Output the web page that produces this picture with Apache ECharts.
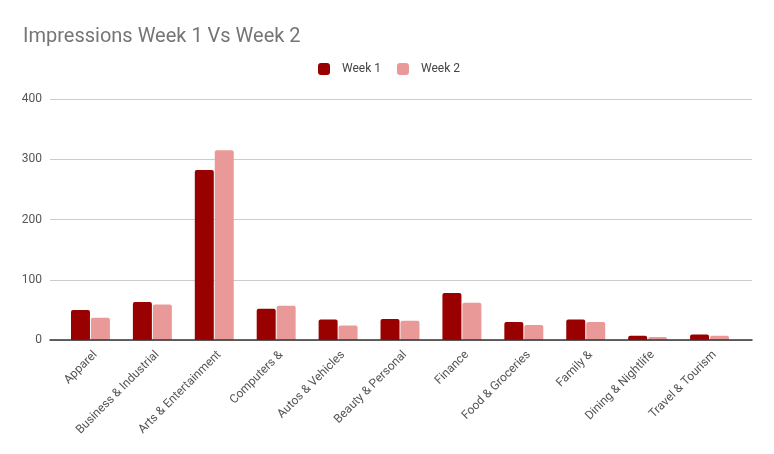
<!DOCTYPE html>
<html>
<head>
<meta charset="UTF-8">
<title>Impressions Week 1 Vs Week 2</title>
<script src="https://cdn.jsdelivr.net/npm/echarts@6/dist/echarts.min.js"></script>
<style>
  html, body { margin: 0; padding: 0; background: #fff; }
  #chart { width: 774px; height: 454px; }
</style>
</head>
<body>
<div id="chart"></div>
<script type="text/javascript">
// categories and values
var categories = ['Apparel', 'Business & Industrial', 'Arts & Entertainment', 'Computers &',
  'Autos & Vehicles', 'Beauty & Personal', 'Finance', 'Food & Groceries', 'Family &',
  'Dining & Nightlife', 'Travel & Tourism'];
var week1 = [50, 63, 282, 52, 34, 35, 78, 30, 34, 7, 9];
var week2 = [37, 59, 315, 57, 24, 32, 62, 25, 30, 5, 7];
var yTicks = [0, 100, 200, 300, 400];

var myChart = echarts.init(document.getElementById('chart'));

// grid 0: gridlines + baseline, grid 1: bars, grid 2: the slanted labels (nudged right a bit)
var option = {
  animation: false,
  textStyle: { fontFamily: 'Roboto' },
  title: {
    text: 'Impressions Week 1 Vs Week 2',
    left: 18,
    top: 22,
    textStyle: { fontFamily: 'Roboto', fontSize: 20, fontWeight: 'normal', color: '#757575' }
  },
  legend: {
    top: 58,
    left: 313,
    itemWidth: 12,
    itemHeight: 12,
    itemGap: 16,
    textStyle: { fontFamily: 'Roboto', fontSize: 12, color: '#444', padding: [0, 0, 0, 7] },
    data: ['Week 1', 'Week 2']
  },
  grid: [
    { left: 50, right: 22, top: 99, bottom: 114 },
    { left: 59.5, right: 33.5, top: 99, bottom: 114 },
    { left: 64.5, right: 28.5, top: 99, bottom: 114 }
  ],
  xAxis: [
    {
      type: 'category',
      gridIndex: 0,
      data: [''],
      axisTick: { show: false },
      axisLabel: { show: false },
      axisLine: { lineStyle: { color: '#333', width: 1.5 } },
      z: 5
    },
    {
      type: 'category',
      gridIndex: 1,
      data: categories,
      axisTick: { show: false },
      axisLine: { show: false },
      axisLabel: { show: false }
    },
    {
      type: 'category',
      gridIndex: 2,
      data: categories,
      axisTick: { show: false },
      axisLine: { show: false },
      axisLabel: { rotate: 45, fontSize: 12, color: '#555', margin: 13, interval: 0 }
    }
  ],
  yAxis: [
    {
      type: 'value',
      gridIndex: 0,
      min: yTicks[0],
      max: yTicks[yTicks.length - 1],
      interval: 100,
      axisLine: { show: false },
      axisTick: { show: false },
      axisLabel: { fontSize: 12, color: '#555', margin: 8 },
      splitLine: { lineStyle: { color: '#ccc' } }
    },
    {
      type: 'value',
      gridIndex: 1,
      min: yTicks[0],
      max: yTicks[yTicks.length - 1],
      interval: 100,
      show: false
    },
    {
      type: 'value',
      gridIndex: 2,
      min: yTicks[0],
      max: yTicks[yTicks.length - 1],
      interval: 100,
      show: false
    }
  ],
  series: [
    {
      name: 'Week 1',
      type: 'bar',
      xAxisIndex: 1,
      yAxisIndex: 1,
      data: week1,
      barWidth: 19,
      barGap: '5%',
      itemStyle: { color: '#990000', borderRadius: [2, 2, 0, 0] }
    },
    {
      name: 'Week 2',
      type: 'bar',
      xAxisIndex: 1,
      yAxisIndex: 1,
      data: week2,
      barWidth: 19,
      itemStyle: { color: '#ea9999', borderRadius: [2, 2, 0, 0] }
    }
  ]
};
myChart.setOption(option);
</script>
</body>
</html>
